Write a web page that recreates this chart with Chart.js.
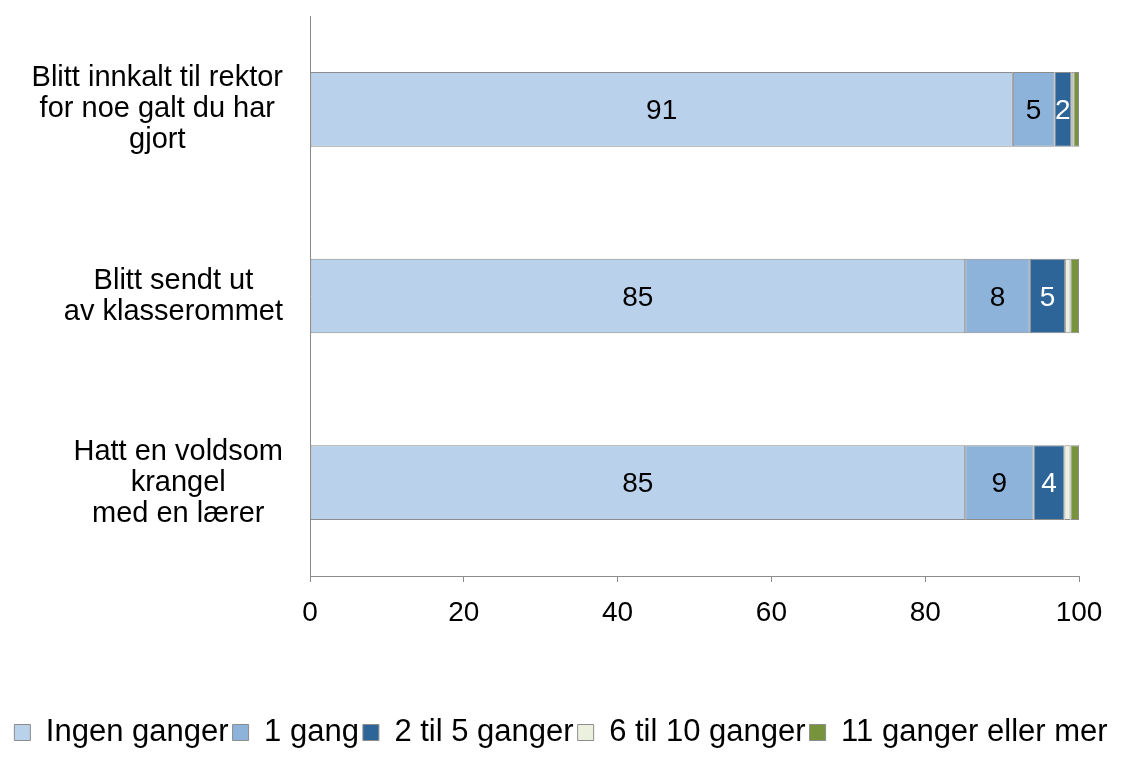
<!DOCTYPE html>
<html>
<head>
<meta charset="utf-8">
<script src="https://cdn.jsdelivr.net/npm/chart.js@4/dist/chart.umd.min.js"></script>
<style>
  html, body { margin: 0; padding: 0; background: #fff; }
  canvas { display: block; }
</style>
</head>
<body>
<canvas id="chart" width="1122" height="758"></canvas>
<script>
// categories (multi-line, top to bottom)
const categories = [
  ['Blitt innkalt til rektor', 'for noe galt du har', 'gjort'],
  ['Blitt sendt ut', 'av klasserommet'],
  ['Hatt en voldsom', 'krangel', 'med en lærer']
];

const seriesNames = ['Ingen ganger', '1 gang', '2 til 5 ganger', '6 til 10 ganger', '11 ganger eller mer'];

// percentages, one per category
const ingenGanger = [91.4, 85.2, 85.2];
const enGang = [5.4, 8.4, 8.9];
const toTilFem = [2.2, 4.6, 4.0];
const seksTilTi = [0.3, 0.7, 0.8];
const elleveEllerMer = [0.7, 1.1, 1.1];

const xTicks = [0, 20, 40, 60, 80, 100];

const FONT = '"Liberation Sans", Arial, sans-serif';
const BORDER = '#8c8c8c';
const colors = ['#b9d1ea', '#8db3da', '#2e6599', '#ebf1de', '#77933c'];
const labelColors = ['#000', '#000', '#fff', null, null];
const values = [ingenGanger, enGang, toTilFem, seksTilTi, elleveEllerMer];

// draws the category labels, each label centred on its own widest line
const categoryLabels = {
  id: 'categoryLabels',
  afterDraw(chart) {
    const scale = chart.scales.y;
    const ctx = chart.ctx;
    const lineH = 31;
    ctx.save();
    ctx.font = '29px ' + FONT;
    ctx.fillStyle = '#000';
    ctx.textAlign = 'center';
    ctx.textBaseline = 'middle';
    categories.forEach((lines, i) => {
      const y = scale.getPixelForValue(i);
      const widest = Math.max(...lines.map(l => ctx.measureText(l).width));
      const cx = scale.right - 27 - widest / 2;
      lines.forEach((line, j) => {
        ctx.fillText(line, cx, y + (j - (lines.length - 1) / 2) * lineH);
      });
    });
    ctx.restore();
  }
};

// value labels in the middle of the first three segments
const valueLabels = {
  id: 'valueLabels',
  afterDatasetsDraw(chart) {
    const ctx = chart.ctx;
    ctx.save();
    ctx.font = '28px ' + FONT;
    ctx.textAlign = 'center';
    ctx.textBaseline = 'middle';
    chart.data.datasets.forEach((ds, di) => {
      if (!labelColors[di]) return;
      const meta = chart.getDatasetMeta(di);
      meta.data.forEach((bar, i) => {
        const { x, base, y } = bar.getProps(['x', 'base', 'y'], true);
        ctx.fillStyle = labelColors[di];
        ctx.fillText(String(Math.round(ds.data[i])), (x + base) / 2, y + 2);
      });
    });
    ctx.restore();
  }
};

new Chart(document.getElementById('chart'), {
  type: 'bar',
  data: {
    labels: categories.map(c => c.join(' ')),
    datasets: seriesNames.map((name, i) => ({
      label: name,
      data: values[i],
      backgroundColor: colors[i],
      borderColor: BORDER,
      borderWidth: 1,
      borderSkipped: false,
      barPercentage: 0.4,
      categoryPercentage: 1
    }))
  },
  options: {
    indexAxis: 'y',
    responsive: false,
    animation: false,
    layout: { padding: { top: 16, right: 0, bottom: 0, left: 0 } },
    plugins: {
      tooltip: { enabled: false },
      legend: {
        position: 'bottom',
        labels: {
          boxWidth: 16,
          boxHeight: 16,
          padding: 4,
          color: '#000',
          font: { family: FONT, size: 31 }
        }
      }
    },
    scales: {
      x: {
        stacked: true,
        min: 0,
        max: 100,
        afterBuildTicks: scale => { scale.ticks = xTicks.map(v => ({ value: v })); },
        afterFit: scale => {
          scale.height = 137;
          scale.paddingRight = 43;
        },
        grid: {
          display: true,
          drawOnChartArea: false,
          drawTicks: true,
          tickLength: 6,
          color: BORDER
        },
        border: { display: true, color: BORDER, width: 1 },
        ticks: {
          padding: 14,
          color: '#000',
          font: { family: FONT, size: 28 }
        }
      },
      y: {
        stacked: true,
        afterFit: scale => { scale.width = 310; },
        grid: { display: false },
        border: { display: true, color: BORDER, width: 1 },
        ticks: { display: false }
      }
    }
  },
  plugins: [categoryLabels, valueLabels]
});
</script>
</body>
</html>
